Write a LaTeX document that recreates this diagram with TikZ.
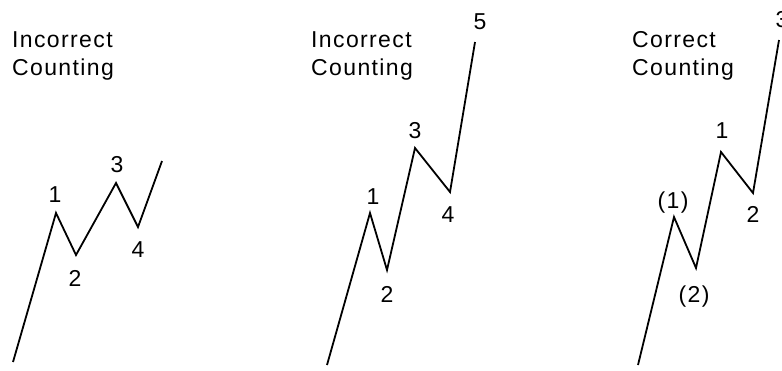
\documentclass[tikz,border=0pt]{standalone}
\usepackage{fontspec}
\setmainfont[LetterSpace=6]{Liberation Sans}
\begin{document}
\begin{tikzpicture}[x=1pt,y=-1pt,
  wave/.style={line width=1.8pt,line join=miter,black},
  lbl/.style={inner sep=0pt,anchor=base,font=\fontsize{23}{23}\selectfont},
  ttl/.style={inner sep=0pt,anchor=base west,align=left,font=\fontsize{23}{28}\selectfont}]
\path[use as bounding box] (0,0) rectangle (782,370);
\clip (0,0) rectangle (782,370);
\fill[white] (0,0) rectangle (782,370);
% Panel 1
\node[ttl] (t1a) at (12,47) {Incorrect};
\node[ttl] (t1b) at (12,75) {Counting};
\coordinate (a0) at (13,362);
\coordinate (a1) at (56,213);
\coordinate (a2) at (76,255);
\coordinate (a3) at (116,183);
\coordinate (a4) at (138,227);
\coordinate (a5) at (162,161);
\draw[wave] (a0) -- (a1) -- (a2) -- (a3) -- (a4) -- (a5);
\node[lbl] (l11) at (55,202) {1};
\node[lbl] (l12) at (75,286) {2};
\node[lbl] (l13) at (117,172) {3};
\node[lbl] (l14) at (138,257) {4};
% Panel 2
\node[ttl] (t2a) at (311,47) {Incorrect};
\node[ttl] (t2b) at (311,75) {Counting};
\coordinate (b0) at (327,365);
\coordinate (b1) at (370,213);
\coordinate (b2) at (387,270);
\coordinate (b3) at (415,148);
\coordinate (b4) at (450,192);
\coordinate (b5) at (475,42);
\draw[wave] (b0) -- (b1) -- (b2) -- (b3) -- (b4) -- (b5);
\node[lbl] (l21) at (373,204) {1};
\node[lbl] (l22) at (387,302) {2};
\node[lbl] (l23) at (415,138) {3};
\node[lbl] (l24) at (448,222) {4};
\node[lbl] (l25) at (480,29) {5};
% Panel 3
\node[ttl] (t3a) at (632,47) {Correct};
\node[ttl] (t3b) at (632,75) {Counting};
\coordinate (c0) at (638,365);
\coordinate (c1) at (674,217);
\coordinate (c2) at (696,268);
\coordinate (c3) at (721,152);
\coordinate (c4) at (753,193);
\coordinate (c5) at (779,40);
\draw[wave] (c0) -- (c1) -- (c2) -- (c3) -- (c4) -- (c5);
\node[lbl] (l31) at (673,208) {(1)};
\node[lbl] (l32) at (694,302) {(2)};
\node[lbl] (l33) at (722,138) {1};
\node[lbl] (l34) at (753,222) {2};
\node[lbl] (l35) at (782,27) {3};
\end{tikzpicture}
\end{document}
